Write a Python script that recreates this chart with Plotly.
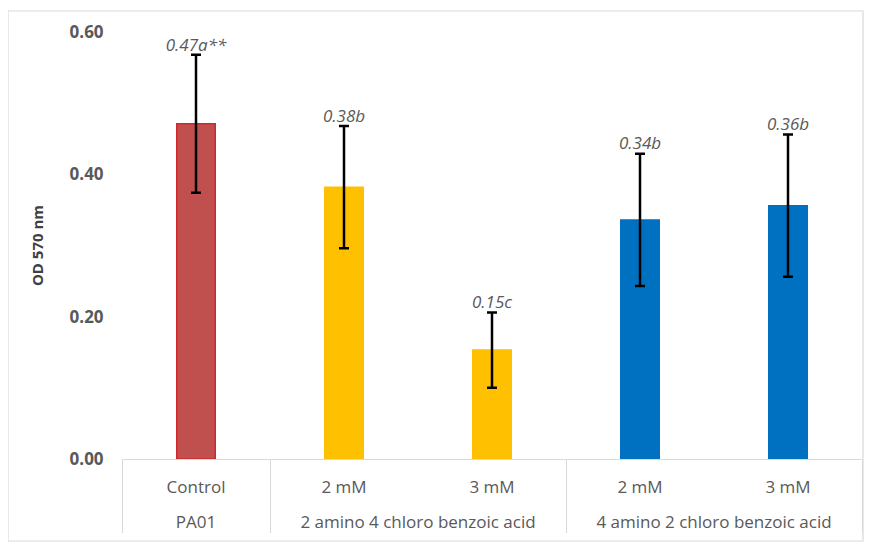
import plotly.graph_objects as go

groups = ["PA01", "2 amino 4 chloro benzoic acid", "2 amino 4 chloro benzoic acid",
          "4 amino 2 chloro benzoic acid", "4 amino 2 chloro benzoic acid"]
conc = ["Control", "2 mM", "3 mM", "2 mM", "3 mM"]
od = [0.471, 0.382, 0.153, 0.336, 0.356]
err = [0.097, 0.086, 0.053, 0.093, 0.100]
labels = ["0.47a**", "0.38b", "0.15c", "0.34b", "0.36b"]
colors = ["#C0504D", "#FFC000", "#FFC000", "#0070C0", "#0070C0"]
outline = ["#D0282A", "#FFC000", "#FFC000", "#0070C0", "#0070C0"]
yticks = [0.0, 0.2, 0.4, 0.6]

# the page body adds an 8px offset, so positions below are in figure pixels
W, H = 872, 544
L, T = 114, 24
PR, PB = 854, 451          # plot right / bottom edges
R, B = W - PR, H - PB
pw, ph = PR - L, PB - T

FONT = "Open Sans, Lato, sans-serif"
inner = [c + "<br>&nbsp;" for c in conc]

fig = go.Figure()
fig.add_trace(go.Bar(
    x=[groups, inner], y=od,
    marker=dict(color=colors, line=dict(color=outline, width=1.5)),
    error_y=dict(type="data", array=err, color="black", thickness=2.5, width=5),
    width=0.26, showlegend=False, hoverinfo="skip",
))
fig.add_trace(go.Scatter(
    x=[groups, inner], y=[v + e for v, e in zip(od, err)],
    mode="text", text=["<i>" + t + "</i>" for t in labels],
    textposition="top center",
    textfont=dict(family=FONT, size=17, color="#595959"),
    showlegend=False, hoverinfo="skip",
))

# outer chart frame
fig.add_shape(type="rect", xref="paper", yref="paper",
              x0=(0 - L) / pw, x1=(855 - L) / pw,
              y0=-(533 - PB) / ph, y1=(PB - 3) / ph,
              line=dict(color="#D9D9D9", width=1.2), layer="below")

fig.update_layout(
    width=W, height=H,
    margin=dict(l=L, r=R, t=T, b=B, autoexpand=False),
    paper_bgcolor="white", plot_bgcolor="white",
    font=dict(family=FONT, color="#595959"),
    xaxis=dict(
        type="multicategory",
        showline=True, linecolor="#D9D9D9", linewidth=1.2,
        showdividers=True, dividercolor="#D9D9D9", dividerwidth=1.2,
        tickfont=dict(family=FONT, size=17, color="#595959"),
        ticks="", showgrid=False, ticklabelstandoff=12,
    ),
    yaxis=dict(
        range=[0, 0.6], tickvals=yticks, tickformat=".2f",
        showgrid=False, zeroline=False, showline=False,
        ticks="outside", ticklen=14, tickcolor="rgba(0,0,0,0)",
        tickfont=dict(family=FONT, size=17, color="#595959", weight="bold"),
        title=dict(text="<b>OD 570 nm</b>", font=dict(family=FONT, size=15, color="#404040"), standoff=22),
    ),
)

fig.write_html("out.html")
